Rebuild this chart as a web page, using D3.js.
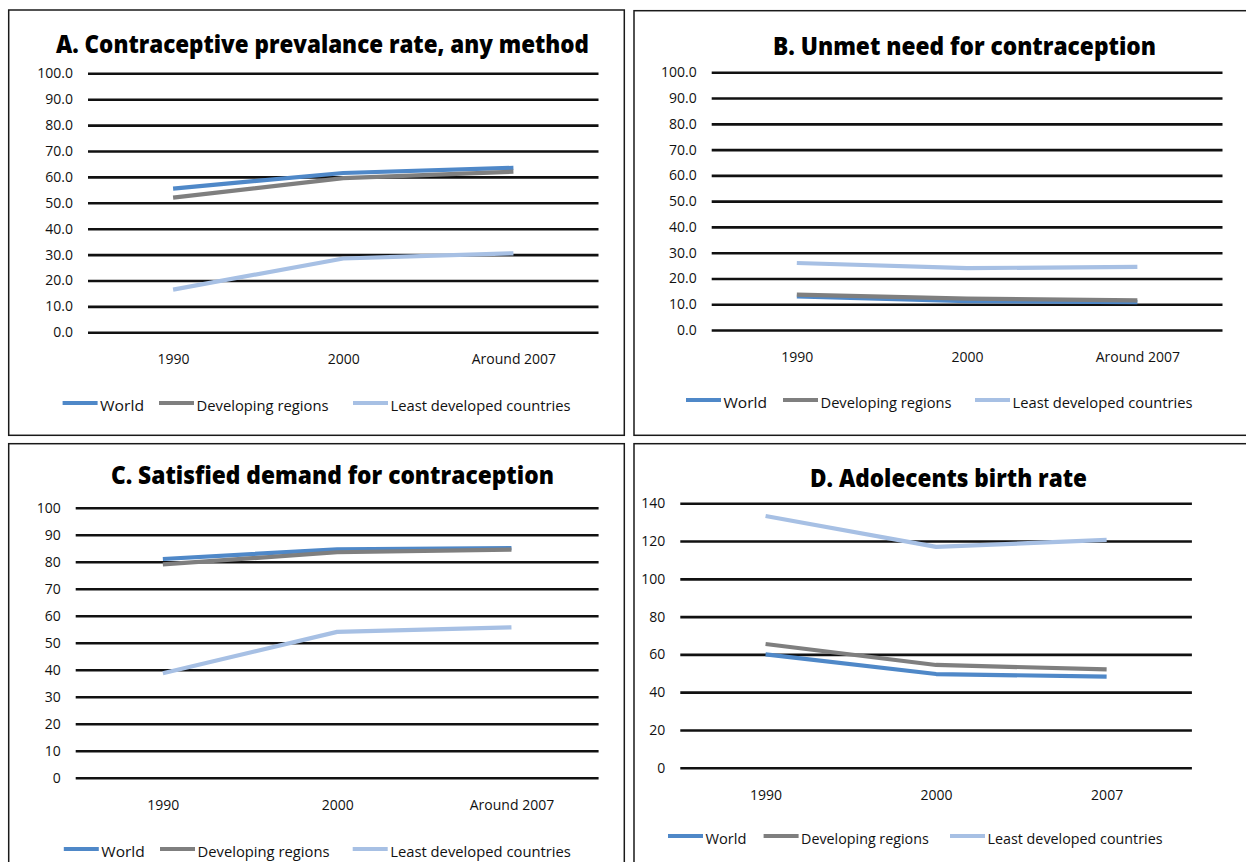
<!DOCTYPE html>
<html>
<head>
<meta charset="utf-8">
<script src="https://cdn.jsdelivr.net/npm/d3@7"></script>
<style>
  body { margin: 0; background: #fff; }
  svg { display: block; font-family: "Open Sans", sans-serif; }
</style>
</head>
<body>
<svg id="chart" width="1246" height="862"></svg>
<script>
// series + categories
const seriesNames = ["World", "Developing regions", "Least developed countries"];
const seriesColors = ["#4f88c8", "#7f7f7f", "#a7c0e4"];
const catsAround = ["1990", "2000", "Around 2007"];
const catsD = ["1990", "2000", "2007"];

// A. contraceptive prevalence
const cprWorld = [55.5, 61.5, 63.5];
const cprDeveloping = [52.0, 59.5, 62.0];
const cprLeast = [16.5, 28.5, 30.5];

// B. unmet need
const unmetWorld = [13.0, 11.2, 10.8];
const unmetDeveloping = [13.7, 12.2, 11.5];
const unmetLeast = [26.0, 24.0, 24.5];

// C. satisfied demand
const demandWorld = [81.0, 84.6, 85.0];
const demandDeveloping = [79.0, 83.5, 84.5];
const demandLeast = [38.7, 54.0, 55.7];

// D. adolescent birth rate
const birthWorld = [60.0, 49.6, 48.2];
const birthDeveloping = [65.5, 54.4, 52.1];
const birthLeast = [133.3, 116.9, 120.6];

const ticks100 = d3.range(0, 101, 10);
const ticks140 = d3.range(0, 141, 20);

const panels = [
  { title: "A. Contraceptive prevalance rate, any method", cats: catsAround,
    series: [cprWorld, cprDeveloping, cprLeast], ticks: ticks100, fmt: ".1f",
    box: [8.7, 10, 624.3, 435.3], left: 88, right: 598.5, top: 73.3, bottom: 332.3,
    titleX: 322.5, titleY: 52.7, titleW: 533,
    legY: 403, legX: [62.6, 159, 353], legW: [44, 132, 180] },
  { title: "B. Unmet need for contraception", cats: catsAround,
    series: [unmetWorld, unmetDeveloping, unmetLeast], ticks: ticks100, fmt: ".1f",
    box: [634, 10.7, 1260, 435.3], left: 711.7, right: 1222.5, top: 72.3, bottom: 330,
    titleX: 964.5, titleY: 55, titleW: 383,
    legY: 400, legX: [686, 783, 975], legW: [43.5, 131, 180] },
  { title: "C. Satisfied demand for contraception", cats: catsAround,
    series: [demandWorld, demandDeveloping, demandLeast], ticks: ticks100, fmt: "d",
    box: [8.7, 443.7, 624.3, 880], left: 75.7, right: 598.6, top: 507.7, bottom: 777.7,
    titleX: 332.4, titleY: 484, titleW: 443,
    legY: 849, legX: [63.8, 160, 352.7], legW: [43.5, 132, 180.7] },
  { title: "D. Adolecents birth rate", cats: catsD,
    series: [birthWorld, birthDeveloping, birthLeast], ticks: ticks140, fmt: "d",
    box: [634, 443.7, 1260, 880], left: 680.3, right: 1191.9, top: 503.3, bottom: 767.7,
    titleX: 948.5, titleY: 487.3, titleW: 277,
    legY: 836, legX: [668, 763.6, 950], legW: [41, 127.6, 175] }
];

const svg = d3.select("#chart");

panels.forEach(p => {
  const g = svg.append("g");

  g.append("rect")
    .attr("x", p.box[0]).attr("y", p.box[1])
    .attr("width", p.box[2] - p.box[0]).attr("height", p.box[3] - p.box[1])
    .attr("fill", "none").attr("stroke", "#1a1a1a").attr("stroke-width", 1.5);

  const x = d3.scalePoint().domain(p.cats).range([p.left, p.right]).padding(0.5);
  const y = d3.scaleLinear().domain([0, d3.max(p.ticks)]).range([p.bottom, p.top]);

  // gridlines + y labels
  const ya = g.append("g")
    .attr("transform", `translate(${p.left},0)`)
    .call(d3.axisLeft(y).tickValues(p.ticks).tickFormat(d3.format(p.fmt))
      .tickSize(-(p.right - p.left)).tickPadding(15));
  ya.select(".domain").remove();
  ya.selectAll(".tick line").attr("stroke", "#111").attr("stroke-width", 2.6);
  ya.selectAll(".tick text").attr("font-size", 14).attr("fill", "#111")
    .attr("font-family", "Open Sans, sans-serif");

  const xa = g.append("g")
    .attr("transform", `translate(0,${p.bottom})`)
    .call(d3.axisBottom(x).tickSize(0).tickPadding(22));
  xa.select(".domain").remove();
  xa.selectAll(".tick text").attr("font-size", 14).attr("fill", "#111")
    .attr("font-family", "Open Sans, sans-serif");

  const line = d3.line().x((d, i) => x(p.cats[i])).y(d => y(d));

  p.series.forEach((vals, i) => {
    g.append("path")
      .datum(vals)
      .attr("fill", "none")
      .attr("stroke", seriesColors[i])
      .attr("stroke-width", 4.2)
      .attr("stroke-linejoin", "round")
      .attr("d", line);
  });

  g.append("text")
    .attr("x", p.titleX).attr("y", p.titleY)
    .attr("text-anchor", "middle")
    .attr("font-size", 25).attr("font-weight", 800)
    .attr("fill", "#000")
    .attr("textLength", p.titleW).attr("lengthAdjust", "spacingAndGlyphs")
    .text(p.title);

  // legend
  seriesNames.forEach((name, i) => {
    g.append("line")
      .attr("x1", p.legX[i]).attr("x2", p.legX[i] + 35)
      .attr("y1", p.legY).attr("y2", p.legY)
      .attr("stroke", seriesColors[i]).attr("stroke-width", 4);
    g.append("text")
      .attr("x", p.legX[i] + 37.5).attr("y", p.legY + 7.5)
      .attr("font-size", 14.5).attr("fill", "#111")
      .attr("textLength", p.legW[i]).attr("lengthAdjust", "spacingAndGlyphs")
      .text(name);
  });
});
</script>
</body>
</html>
